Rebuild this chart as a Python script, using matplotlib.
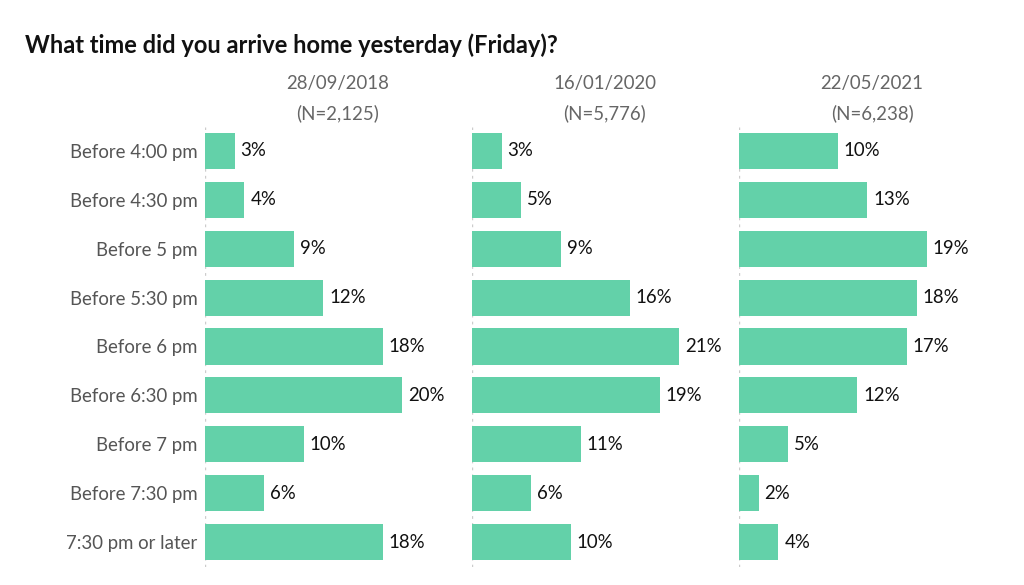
import matplotlib.pyplot as plt

plt.rcParams['font.family'] = ['Lato', 'DejaVu Sans']

categories = ['Before 4:00 pm', 'Before 4:30 pm', 'Before 5 pm', 'Before 5:30 pm',
              'Before 6 pm', 'Before 6:30 pm', 'Before 7 pm', 'Before 7:30 pm',
              '7:30 pm or later']
dates = ['28/09/2018', '16/01/2020', '22/05/2021']
sizes = ['(N=2,125)', '(N=5,776)', '(N=6,238)']
v2018 = [3, 4, 9, 12, 18, 20, 10, 6, 18]
v2020 = [3, 5, 9, 16, 21, 19, 11, 6, 10]
v2021 = [10, 13, 19, 18, 17, 12, 5, 2, 4]
series = [v2018, v2020, v2021]

bar_color = '#63d1a9'
W, H = 1024, 585

fig = plt.figure(figsize=(W / 100, H / 100), dpi=100)
fig.text(25 / W, 1 - 45 / H, 'What time did you arrive home yesterday (Friday)?',
         fontsize=17, fontweight='bold', va='center', ha='left', color='#111111')

lefts = [205, 472, 739]
ax_w = 260
top_px, bot_px = 126.5, 566.5
y = list(range(len(categories)))

for i, (left, vals) in enumerate(zip(lefts, series)):
    ax = fig.add_axes([left / W, 1 - bot_px / H, ax_w / W, (bot_px - top_px) / H])
    ax.barh(y, vals, height=0.74, color=bar_color, zorder=2)
    ax.set_xlim(0, ax_w / 9.87)
    ax.set_ylim(len(categories) - 0.5, -0.5)
    ax.axvline(0, color='#cccccc', lw=1, linestyle=(0, (2, 3)), zorder=1)
    for s in ax.spines.values():
        s.set_visible(False)
    ax.set_xticks([])
    ax.tick_params(axis='y', length=0, pad=5.5)
    if i == 0:
        ax.set_yticks(y)
        ax.set_yticklabels(categories, fontsize=13.4, color='#555555')
    else:
        ax.set_yticks([])
    for yy, v in zip(y, vals):
        ax.text(v + 0.6, yy, f'{v}%', va='center', ha='left', fontsize=13.4,
                color='#111111')
    cx = (left + 133) / W
    fig.text(cx, 1 - 84 / H, dates[i], ha='center', va='center', fontsize=13.4,
             color='#666666')
    fig.text(cx, 1 - 113 / H, sizes[i], ha='center', va='center', fontsize=13.4,
             color='#666666')

fig.savefig('out.png', dpi=100)
